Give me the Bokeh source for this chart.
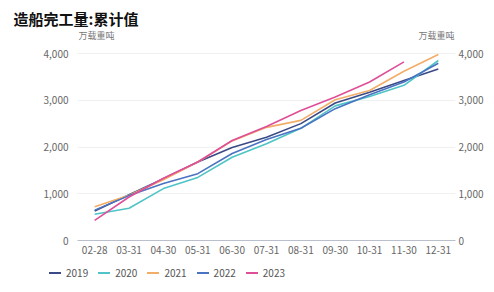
from bokeh.plotting import figure
from bokeh.layouts import column
from bokeh.models import (Range1d, FactorRange, LinearAxis, FixedTicker, NumeralTickFormatter,
                          Label, ColumnDataSource, Title, Div)
from bokeh.embed import file_html
from bokeh.resources import INLINE

dates = ["02-28", "03-31", "04-30", "05-31", "06-30", "07-31", "08-31", "09-30", "10-31", "11-30", "12-31"]
y2019 = [630, 980, 1320, 1680, 1990, 2210, 2500, 2940, 3170, 3420, 3670]
y2020 = [560, 690, 1110, 1350, 1780, 2070, 2400, 2880, 3080, 3320, 3850]
y2021 = [720, 970, 1300, 1680, 2130, 2420, 2570, 3010, 3210, 3620, 3980]
y2022 = [650, 960, 1220, 1430, 1860, 2160, 2400, 2820, 3120, 3390, 3790]
y2023 = [430, 930, 1330, 1680, 2140, 2440, 2780, 3070, 3390, 3820]
series_names = ["2019", "2020", "2021", "2022", "2023"]
series_vals = [y2019, y2020, y2021, y2022, y2023]
colors = ["#3b4a86", "#4fc4c6", "#f2ad68", "#4a73c2", "#de4f98"]
y_ticks = [0, 1000, 2000, 3000, 4000]
title_text = "造船完工量:累计值"
unit_text = "万载重吨"

FONT = "Noto Sans CJK SC"
W, H1, H2 = 486, 262, 14
FL, FR, FT, FB = 77, 459, 28, 240   # frame edges (px)
Y4000 = 53                           # pixel row of the 4,000 gridline
ytop = 4000.0 * (FB - FT) / (FB - Y4000)

p1 = figure(width=W, height=H1, x_range=FactorRange(*dates), y_range=Range1d(0, ytop),
            output_backend="svg", toolbar_location=None,
            min_border_left=FL, min_border_right=W - FR, min_border_top=FT, min_border_bottom=H1 - FB)
p1.outline_line_color = None
p1.background_fill_color = "white"
p1.border_fill_color = "white"

for name, vals, c in zip(series_names, series_vals, colors):
    src = ColumnDataSource(dict(x=dates[:len(vals)], y=vals))
    p1.line("x", "y", source=src, line_color=c, line_width=1.6)

# axes
p1.yaxis.ticker = FixedTicker(ticks=y_ticks)
p1.yaxis.formatter = NumeralTickFormatter(format="0,0")
rax = LinearAxis(ticker=FixedTicker(ticks=y_ticks), formatter=NumeralTickFormatter(format="0,0"))
p1.add_layout(rax, "right")
for ax, so in [(p1.yaxis[0], 9), (rax, 3)]:
    ax.axis_line_color = None
    ax.major_tick_line_color = None
    ax.minor_tick_line_color = None
    ax.major_tick_in = 0
    ax.major_tick_out = 0
    ax.major_label_standoff = so
    ax.major_label_text_font = FONT
    ax.major_label_text_font_size = "10px"
    ax.major_label_text_color = "#666666"
xa = p1.xaxis[0]
xa.axis_line_color = "#b9bfcc"
xa.axis_line_width = 1
xa.major_tick_line_color = None
xa.minor_tick_line_color = None
xa.major_tick_in = 0
xa.major_tick_out = 0
xa.major_label_standoff = 5
xa.major_label_text_font = FONT
xa.major_label_text_font_size = "10px"
xa.major_label_text_color = "#666666"

p1.xgrid.grid_line_color = None
p1.ygrid.ticker = FixedTicker(ticks=y_ticks)
p1.ygrid.grid_line_color = "#f0f0f0"

p1.title = Title(text=title_text, align="left", offset=13 - FL, standoff=0,
                 text_font=FONT, text_font_size="15px", text_font_style="bold", text_color="#111111")

band = (FR - FL) / len(dates)
def px_x(px):
    return (px - FL) / band
def px_y(py):
    return (FB - py) * 4000.0 / (FB - Y4000)

p1.add_layout(Label(x=px_x(FL + 1), y=px_y(35), text=unit_text, text_font=FONT,
                    text_font_size="9px", text_color="#777777", text_baseline="middle", text_align="left"))
p1.add_layout(Label(x=px_x(FR - 1), y=px_y(35), text=unit_text, text_font=FONT,
                    text_font_size="9px", text_color="#777777", text_baseline="middle", text_align="right"))

# legend row underneath (built from the series names and colours)
parts = []
for name, c in zip(series_names, colors):
    parts.append(
        f'<span style="display:inline-flex;align-items:center;margin-right:10px;">'
        f'<span style="display:inline-block;width:12px;height:2px;background:{c};margin-right:5px;"></span>'
        f'<span>{name}</span></span>')
legend_html = (f'<div style="display:flex;align-items:center;height:12px;line-height:12px;'
               f'padding:4px 0 0 49px;font-family:\'{FONT}\';font-size:10px;color:#555555;'
               f'white-space:nowrap;">' + "".join(parts) + '</div>')
legend_div = Div(text=legend_html, width=W, height=H2, margin=0)

p = column(p1, legend_div, spacing=0)
open("out.html", "w").write(file_html(p, INLINE))
